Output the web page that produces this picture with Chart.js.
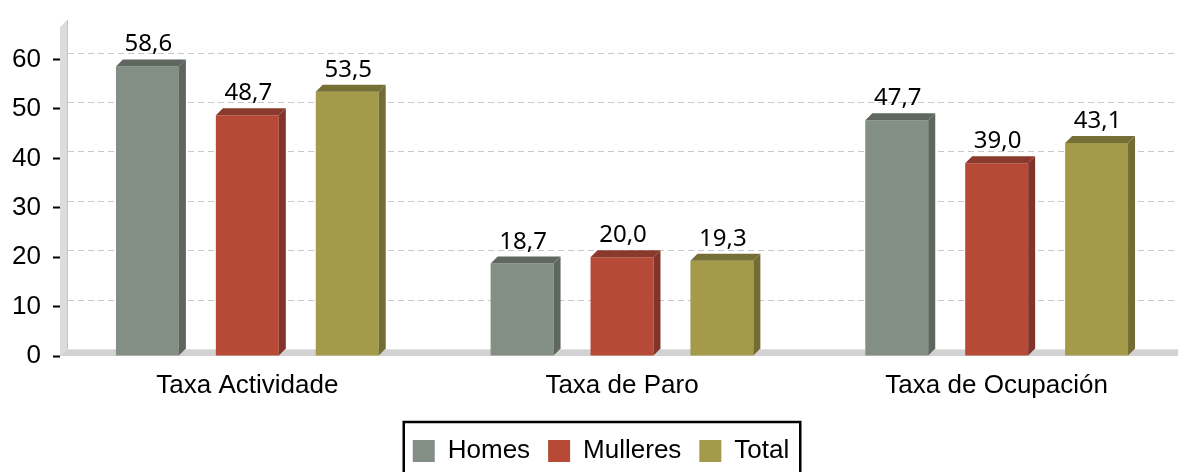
<!DOCTYPE html>
<html>
<head>
<meta charset="utf-8">
<script src="https://cdn.jsdelivr.net/npm/chart.js@4"></script>
<style>
  html, body { margin: 0; padding: 0; background: #fff; overflow: hidden; }
  #wrap { position: relative; width: 1202px; height: 474px; }
</style>
</head>
<body>
<div id="wrap"><canvas id="taxasChart"></canvas></div>
<script>
// Taxas (%) por sexo
const categories = ['Taxa Actividade', 'Taxa de Paro', 'Taxa de Ocupación'];
const homes = [58.6, 18.7, 47.7];
const mulleres = [48.7, 20.0, 39.0];
const total = [53.5, 19.3, 43.1];
const yTicks = [0, 10, 20, 30, 40, 50, 60];

const DEPTH = 7;
const faceColors = ['#838e84', '#b74a36', '#a39a4a'];
const sideColors = ['#5e665f', '#82332a', '#736c34'];
const topColors = ['#5f6760', '#8a3a2c', '#767037'];
const FONT = 'Liberation Sans';

// walls, floor and dashed grid on the back wall
const backdrop = {
    id: 'backdrop',
    beforeDatasetsDraw(chart) {
        const { ctx, chartArea: a, scales: { y } } = chart;
        const right = chart.width;
        ctx.save();
        // left wall
        ctx.fillStyle = '#dcdcdc';
        ctx.beginPath();
        ctx.moveTo(a.left, a.top + DEPTH);
        ctx.lineTo(a.left + DEPTH, a.top);
        ctx.lineTo(a.left + DEPTH, a.bottom - DEPTH);
        ctx.lineTo(a.left, a.bottom);
        ctx.closePath();
        ctx.fill();
        ctx.strokeStyle = '#c4c4c4';
        ctx.lineWidth = 1;
        ctx.beginPath();
        ctx.moveTo(a.left + DEPTH + 0.5, a.top);
        ctx.lineTo(a.left + DEPTH + 0.5, a.bottom - DEPTH);
        ctx.stroke();
        // floor
        ctx.fillStyle = '#d2d2d2';
        ctx.beginPath();
        ctx.moveTo(a.left, a.bottom);
        ctx.lineTo(a.left + DEPTH, a.bottom - DEPTH);
        ctx.lineTo(right, a.bottom - DEPTH);
        ctx.lineTo(right, a.bottom);
        ctx.closePath();
        ctx.fill();
        ctx.strokeStyle = '#e2e2e2';
        ctx.beginPath();
        ctx.moveTo(a.left + DEPTH, a.bottom - DEPTH + 0.5);
        ctx.lineTo(right, a.bottom - DEPTH + 0.5);
        ctx.stroke();
        // dashed grid
        ctx.strokeStyle = '#c8c8c8';
        ctx.setLineDash([6, 4]);
        y.ticks.forEach(t => {
            if (t.value === 0) return;
            const py = Math.round(y.getPixelForValue(t.value)) - DEPTH + 0.5;
            ctx.beginPath();
            ctx.moveTo(a.left + DEPTH + 1, py);
            ctx.lineTo(right, py);
            ctx.stroke();
        });
        ctx.restore();
    }
};

// side + top faces of the bars, and the value labels
const bars3d = {
    id: 'bars3d',
    afterDatasetsDraw(chart) {
        const { ctx } = chart;
        ctx.save();
        chart.data.datasets.forEach((ds, i) => {
            chart.getDatasetMeta(i).data.forEach((bar, j) => {
                const x0 = bar.x - bar.width / 2;
                const x1 = bar.x + bar.width / 2;
                const top = bar.y;
                const base = bar.base;
                ctx.fillStyle = sideColors[i];
                ctx.beginPath();
                ctx.moveTo(x1, top);
                ctx.lineTo(x1 + DEPTH, top - DEPTH);
                ctx.lineTo(x1 + DEPTH, base - DEPTH);
                ctx.lineTo(x1, base);
                ctx.closePath();
                ctx.fill();
                ctx.fillStyle = topColors[i];
                ctx.beginPath();
                ctx.moveTo(x0, top);
                ctx.lineTo(x0 + DEPTH, top - DEPTH);
                ctx.lineTo(x1 + DEPTH, top - DEPTH);
                ctx.lineTo(x1, top);
                ctx.closePath();
                ctx.fill();

                ctx.fillStyle = '#000';
                ctx.font = '24px "Noto Sans"';
                ctx.textAlign = 'center';
                ctx.textBaseline = 'alphabetic';
                ctx.fillText(ds.data[j].toFixed(1).replace('.', ','), bar.x + 1, top - 15);
            });
        });
        ctx.restore();
    },
    afterDraw(chart) {
        // black frame round the legend
        const boxes = chart.legend.legendHitBoxes;
        if (!boxes || !boxes.length) return;
        const first = boxes[0], last = boxes[boxes.length - 1];
        const { ctx } = chart;
        ctx.save();
        ctx.strokeStyle = '#000';
        ctx.lineWidth = 2.5;
        ctx.strokeRect(first.left - 9, first.top - 16, last.left + last.width + 11 - (first.left - 9), 80);
        ctx.restore();
    }
};

new Chart(document.getElementById('taxasChart'), {
    type: 'bar',
    data: {
        labels: categories,
        datasets: [
            { label: 'Homes', data: homes, backgroundColor: faceColors[0], borderWidth: 0 },
            { label: 'Mulleres', data: mulleres, backgroundColor: faceColors[1], borderWidth: 0 },
            { label: 'Total', data: total, backgroundColor: faceColors[2], borderWidth: 0 }
        ]
    },
    options: {
        responsive: true,
        maintainAspectRatio: false,
        animation: false,
        layout: { padding: { top: 20, left: 0, right: 0, bottom: 0 } },
        datasets: { bar: { categoryPercentage: 0.8, barPercentage: 0.63 } },
        plugins: {
            tooltip: { enabled: false },
            legend: {
                position: 'bottom',
                labels: {
                    boxWidth: 22,
                    boxHeight: 22,
                    padding: 18,
                    color: '#000',
                    font: { family: FONT, size: 26 }
                }
            }
        },
        scales: {
            x: {
                grid: { display: false, drawTicks: false },
                border: { display: false },
                ticks: { color: '#000', padding: 14, font: { family: FONT, size: 26 } },
                afterFit(s) { s.height = 64; s.paddingLeft = 0; s.paddingRight = 0; }
            },
            y: {
                min: 0,
                max: 68,
                grid: { drawOnChartArea: false, drawTicks: true, tickLength: 7, tickColor: '#000', tickWidth: 2 },
                border: { display: false },
                ticks: { stepSize: 10, color: '#000', padding: 12, font: { family: FONT, size: 26 } },
                afterBuildTicks(s) { s.ticks = yTicks.map(v => ({ value: v })); },
                afterFit(s) { s.width = 60; s.paddingTop = 0; s.paddingBottom = 0; }
            },
            y2: {
                position: 'right',
                grid: { display: false },
                border: { display: false },
                ticks: { display: false },
                afterFit(s) { s.width = 18; s.paddingTop = 0; s.paddingBottom = 0; }
            }
        }
    },
    plugins: [backdrop, bars3d]
});
</script>
</body>
</html>
